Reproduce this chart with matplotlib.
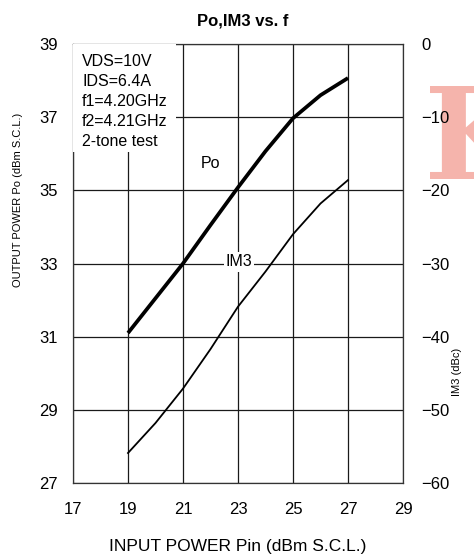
import matplotlib
matplotlib.use("Agg")
import matplotlib.pyplot as plt
from matplotlib.patches import Rectangle

plt.rcParams['font.family'] = ['Liberation Sans', 'DejaVu Sans']

# Data
pin = [19, 20, 21, 22, 23, 24, 25, 26, 27]
po = [31.1, 32.05, 33.0, 34.05, 35.08, 36.07, 36.97, 37.6, 38.07]
im3 = [-55.9, -51.8, -47.1, -41.7, -35.9, -31.1, -26.0, -21.8, -18.6]

x_ticks = [17, 19, 21, 23, 25, 27, 29]
po_ticks = [27, 29, 31, 33, 35, 37, 39]
im3_ticks = [-60, -50, -40, -30, -20, -10, 0]
info_lines = ["VDS=10V", "IDS=6.4A", "f1=4.20GHz", "f2=4.21GHz", "2-tone test"]

W, H = 474, 560
fig = plt.figure(figsize=(W / 100, H / 100), dpi=100)

# watermark (behind everything)
fig.text(424 / W, 1 - 144 / H, "K", fontsize=92, fontweight='bold', family='DejaVu Serif',
         color='#f5b4ac', ha='left', va='center', zorder=-1)

L, R, T, B = 73, 403, 44, 483
ax = fig.add_axes([L / W, 1 - B / H, (R - L) / W, (B - T) / H])
ax.patch.set_alpha(0)
ax.set_xlim(17, 29)
ax.set_ylim(27, 39)
ax.set_xticks(x_ticks)
ax.set_yticks(po_ticks)
ax.tick_params(axis='both', length=0, labelsize=12)
ax.tick_params(axis='x', pad=14)
ax.tick_params(axis='y', pad=11)
ax.grid(True, color='#1a1a1a', linewidth=0.9)
for s in ax.spines.values():
    s.set_color('#333333')
    s.set_linewidth(0.9)

ax.plot(pin, po, color='black', linewidth=2.7, solid_capstyle='butt', zorder=5)

ax2 = ax.twinx()
ax2.set_ylim(-60, 0)
ax2.set_yticks(im3_ticks)
ax2.tick_params(axis='y', length=0, labelsize=12, pad=13)
for s in ax2.spines.values():
    s.set_visible(False)
ax2.plot(pin, im3, color='black', linewidth=1.3, zorder=5)

# white box behind info text (hides grid lines)
ax.add_patch(Rectangle((0.0, (B - 152) / (B - T)), (176 - L) / (R - L), (152 - T) / (B - T),
                       transform=ax.transAxes, facecolor='white', edgecolor='none', zorder=3))
for i, line in enumerate(info_lines):
    fig.text(82 / W, 1 - (61 + 20 * i) / H, line, fontsize=11.5, ha='left', va='center', zorder=10)

# curve labels
fig.text(210 / W, 1 - 163 / H, "Po", fontsize=11.5, ha='center', va='center', zorder=10)
fig.text(239 / W, 1 - 262 / H, "IM3", fontsize=11.5, ha='center', va='center', zorder=10,
         bbox=dict(facecolor='white', edgecolor='none', pad=1.5))

# titles / axis labels
fig.text(243 / W, 1 - 21 / H, "Po,IM3 vs. f", fontsize=12, fontweight='bold', ha='center', va='center')
fig.text(238 / W, 1 - 546 / H, "INPUT POWER Pin (dBm S.C.L.)", fontsize=12.5, ha='center', va='center')
fig.text(18 / W, 1 - 200 / H, "OUTPUT POWER Po (dBm S.C.L.)", fontsize=8, rotation=90, ha='center', va='center')
fig.text(457 / W, 1 - 372 / H, "IM3 (dBc)", fontsize=8, rotation=90, ha='center', va='center')

fig.savefig("out.png", dpi=100)
